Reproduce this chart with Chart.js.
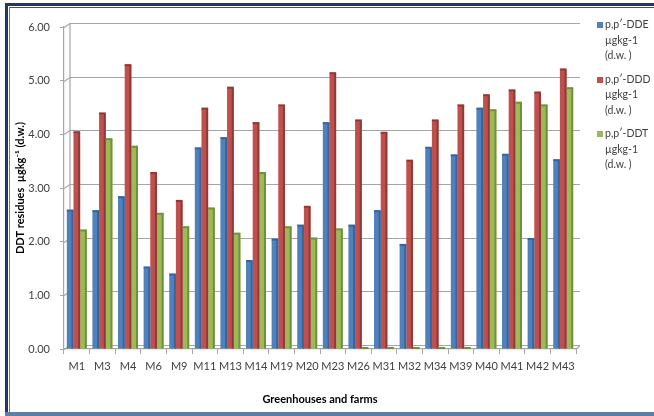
<!DOCTYPE html>
<html>
<head>
<meta charset="utf-8">
<script src="https://cdn.jsdelivr.net/npm/chart.js@4.4.1/dist/chart.umd.min.js"></script>
<style>
  html, body { margin: 0; padding: 0; background: #fff; }
  #wrap { position: relative; width: 654px; height: 416px; overflow: hidden; font-family: Lato, "Open Sans", sans-serif; }
  #c { position: absolute; left: 0; top: 0; }
  .ln { position: absolute; }
  #legend { position: absolute; left: 597px; top: 17px; color: #404040; font-size: 10.5px; line-height: 15.5px; }
  #legend .item { position: relative; padding-left: 8px; margin-bottom: 8px; }
  #legend .sw { position: absolute; left: 0; top: 5px; width: 6px; height: 6px; }
</style>
</head>
<body>
<div id="wrap">
  <canvas id="c" width="654" height="416"></canvas>
  <div class="ln" style="left:5px;top:3px;width:649px;height:3px;background:#1f3864"></div>
  <div class="ln" style="left:9px;top:7px;width:645px;height:1px;background:#2f5597"></div>
  <div class="ln" style="left:5px;top:3px;width:3px;height:413px;background:#1f3864"></div>
  <div class="ln" style="left:9px;top:7px;width:1px;height:406px;background:#5b7aa6"></div>
  <div class="ln" style="left:5px;top:412px;width:649px;height:4px;background:#5f7ea6"></div>
  <div id="legend"></div>
</div>
<script>
// Sampling sites
const sites = ['M1','M3','M4','M6','M9','M11','M13','M14','M19','M20','M23','M26','M31','M32','M34','M39','M40','M41','M42','M43'];

// Residue concentrations, µg/kg dry weight
const ddeValues = [2.58,2.57,2.83,1.52,1.39,3.74,3.93,1.64,2.04,2.30,4.21,2.30,2.57,1.94,3.75,3.61,4.48,3.62,2.05,3.52];
const dddValues = [4.04,4.39,5.29,3.28,2.76,4.48,4.87,4.21,4.54,2.65,5.14,4.26,4.03,3.51,4.26,4.54,4.73,4.82,4.78,5.21];
const ddtValues = [2.21,3.91,3.77,2.52,2.27,2.62,2.15,3.28,2.27,2.06,2.23,0,0,0,0,0,4.45,4.59,4.54,4.86];

const seriesNames = ['p,p\u2032-DDE', 'p,p\u2032-DDD', 'p,p\u2032-DDT'];
const yTicks = [0, 1, 2, 3, 4, 5, 6];

const fills = ['#4f81bd', '#c0504d', '#9bbb59'];
const sides = ['#3a6499', '#8f3a37', '#72903c'];

// Legend beside the plot
const legend = document.getElementById('legend');
seriesNames.forEach((n, i) => {
  const d = document.createElement('div');
  d.className = 'item';
  d.innerHTML = '<span class="sw" style="background:' + fills[i] + '"></span>' + n + '<br>\u00b5gkg-1<br>(d.w. )';
  legend.appendChild(d);
});

const DX = 6, DY = -4; // depth of the back wall

// Back wall gridlines and floor, slanted like a 3-D chart
const wallPlugin = {
  id: 'wall',
  beforeDatasetsDraw(chart) {
    const { ctx, chartArea: a, scales: { y } } = chart;
    ctx.save();
    ctx.strokeStyle = '#a6a6a6';
    ctx.lineWidth = 1.2;
    yTicks.forEach(v => {
      const py = Math.round(y.getPixelForValue(v)) + 0.5;
      ctx.beginPath();
      ctx.moveTo(a.left, py);
      ctx.lineTo(a.left + DX, py + DY);
      ctx.lineTo(a.right + DX - 2, py + DY);
      ctx.stroke();
    });
    // left wall edge
    ctx.beginPath();
    ctx.moveTo(a.left + DX, y.getPixelForValue(0) + DY);
    ctx.lineTo(a.left + DX, y.getPixelForValue(6) + DY);
    ctx.stroke();
    // floor front / right edge
    const b = Math.round(y.getPixelForValue(0)) + 0.5;
    ctx.beginPath();
    ctx.moveTo(a.right, b);
    ctx.lineTo(a.right + DX - 2, b + DY);
    ctx.stroke();
    ctx.restore();
  }
};

// Shaded side and top faces on each bar
const bar3dPlugin = {
  id: 'bar3d',
  afterDatasetsDraw(chart) {
    const { ctx } = chart;
    ctx.save();
    chart.data.datasets.forEach((ds, di) => {
      const meta = chart.getDatasetMeta(di);
      meta.data.forEach(el => {
        const { x, y, base, width } = el.getProps(['x', 'y', 'base', 'width'], true);
        const l = x - width / 2, r = x + width / 2;
        const h = base - y;
        ctx.fillStyle = sides[di];
        if (h > 0.5) {
          ctx.fillRect(r - 2, y, 2, h);
          ctx.fillRect(l, y - 1, width, 2);
        } else {
          ctx.fillRect(l, base - 2, width, 2);
        }
      });
    });
    ctx.restore();
  }
};

new Chart(document.getElementById('c'), {
  type: 'bar',
  data: {
    labels: sites,
    datasets: [
      { label: seriesNames[0], data: ddeValues, backgroundColor: fills[0] },
      { label: seriesNames[1], data: dddValues, backgroundColor: fills[1] },
      { label: seriesNames[2], data: ddtValues, backgroundColor: fills[2] }
    ]
  },
  options: {
    responsive: false,
    animation: false,
    devicePixelRatio: 1,
    layout: { padding: { left: 10, top: 27, right: 78, bottom: 8 } },
    datasets: { bar: { categoryPercentage: 0.78, barPercentage: 1.0 } },
    plugins: { legend: { display: false }, tooltip: { enabled: false } },
    scales: {
      x: {
        grid: { display: true, drawOnChartArea: false, offset: true, tickLength: 5, color: '#a6a6a6' },
        border: { display: true, color: '#a6a6a6', width: 1.2 },
        ticks: { color: '#404040', font: { family: 'Lato', size: 11 }, padding: 6, maxRotation: 0, autoSkip: false },
        title: { display: true, text: 'Greenhouses and farms', color: '#000', font: { family: 'Lato', size: 11, weight: 'bold' }, padding: { top: 4, bottom: 2 } },
        afterFit(s) { s.height = 416 - 8 - 349; }
      },
      y: {
        min: 0, max: 6,
        afterBuildTicks(s) { s.ticks = yTicks.map(v => ({ value: v })); },
        grid: { display: true, drawOnChartArea: false, tickLength: 4, color: '#a6a6a6' },
        border: { display: true, color: '#a6a6a6', width: 1.2 },
        ticks: { color: '#404040', font: { family: 'Lato', size: 11 }, padding: 10, callback: v => Number(v).toFixed(2) },
        title: { display: true, text: 'DDT residues  \u00b5gkg\u207b\u00b9 (d.w.)', color: '#000', font: { family: 'Lato', size: 11, weight: 'bold' }, padding: { top: 4, bottom: 4 } },
        afterFit(s) { s.width = 54; }
      }
    }
  },
  plugins: [wallPlugin, bar3dPlugin]
});
</script>
</body>
</html>
